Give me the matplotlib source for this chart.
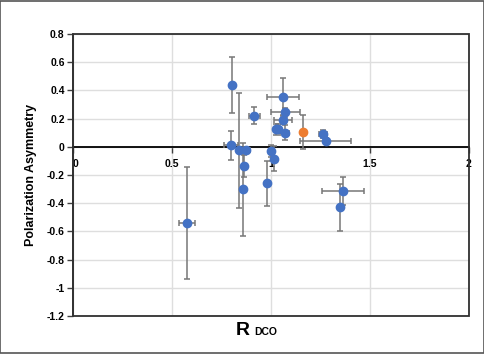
import numpy as np
import matplotlib.pyplot as plt
from matplotlib.patches import Rectangle

plt.rcParams['font.family'] = ['Liberation Sans', 'DejaVu Sans']

# blue series: R_DCO, asymmetry, and their errors
r_dco = [0.803, 0.797, 0.836, 0.873, 0.864, 0.859, 0.916, 0.980, 1.000, 1.014,
         1.024, 1.035, 1.060, 1.073, 1.060, 1.070, 1.264, 1.276, 1.363, 1.347, 0.574]
asym = [0.44, 0.01, -0.025, -0.02, -0.135, -0.30, 0.22, -0.257, -0.03, -0.083,
        0.124, 0.13, 0.355, 0.245, 0.19, 0.10, 0.09, 0.04, -0.314, -0.43, -0.54]
r_err = [0.0, 0.035, 0.0, 0.02, 0.0, 0.0, 0.028, 0.0, 0.0, 0.0,
         0.0, 0.0, 0.082, 0.075, 0.045, 0.023, 0.02, 0.128, 0.106, 0.01, 0.04]
asym_err = [0.2, 0.1, 0.41, 0.02, 0.08, 0.33, 0.06, 0.16, 0.04, 0.09,
            0.04, 0.03, 0.13, 0.03, 0.03, 0.055, 0.03, 0.02, 0.10, 0.165, 0.40]

# orange point
r_new = [1.162]
asym_new = [0.105]
asym_new_err = [0.12]

fig = plt.figure(figsize=(4.85, 3.54), dpi=100)
ax = fig.add_axes([0.1505, 0.107, 0.8165, 0.797])

ax.errorbar(r_dco, asym, xerr=r_err, yerr=asym_err, fmt='o', color='#4472C4',
            ms=6, ecolor='#777777', elinewidth=1.1, capsize=2.5, capthick=1.1, zorder=3)
ax.errorbar(r_new, asym_new, yerr=asym_new_err, fmt='o', color='#ED7D31',
            ms=6, ecolor='#777777', elinewidth=1.1, capsize=2.5, capthick=1.1, zorder=3)

ax.set_xlim(0, 2)
ax.set_ylim(-1.2, 0.8)
ax.set_xticks(np.arange(0, 2.01, 0.5))
ax.set_xticklabels(['0', '0.5', '1', '1.5', '2'])
ax.set_yticks(np.arange(-1.2, 0.81, 0.2))
ax.set_yticklabels(['-1.2', '-1', '-0.8', '-0.6', '-0.4', '-0.2', '0', '0.2', '0.4', '0.6', '0.8'])
ax.grid(True, color='#dedede', lw=1.0, zorder=0)
ax.set_axisbelow(True)

ax.spines['bottom'].set_position(('data', 0))
ax.spines['bottom'].set_color('black')
ax.spines['bottom'].set_linewidth(1.3)
ax.spines['top'].set_visible(False)
ax.spines['right'].set_visible(False)
ax.spines['left'].set_color('#404040')
ax.spines['left'].set_linewidth(1.2)
ax.add_patch(Rectangle((0, 0), 1, 1, transform=ax.transAxes, fill=False,
                       edgecolor='#303030', lw=1.3, zorder=4, clip_on=False))

ax.tick_params(axis='both', direction='out', length=4, width=1, color='#404040',
               labelsize=7.5)
ax.tick_params(axis='x', pad=5)
ax.tick_params(axis='y', pad=2)
for lab in ax.get_xticklabels() + ax.get_yticklabels():
    lab.set_fontweight('bold')
ax.get_xticklabels()[0].set_horizontalalignment('left')

ax.set_ylabel('Polarization Asymmetry', fontsize=9, fontweight='bold', labelpad=7)
fig.text(0.515, 0.055, 'R', fontsize=14, fontweight='bold', ha='right', va='baseline')
fig.text(0.525, 0.055, 'DCO', fontsize=7.5, fontweight='bold', ha='left', va='baseline')

fig.add_artist(Rectangle((0.001, 0.002), 0.996, 0.994, transform=fig.transFigure,
                         fill=False, edgecolor='#555555', lw=1.2))

fig.savefig('out.png', dpi=100)
